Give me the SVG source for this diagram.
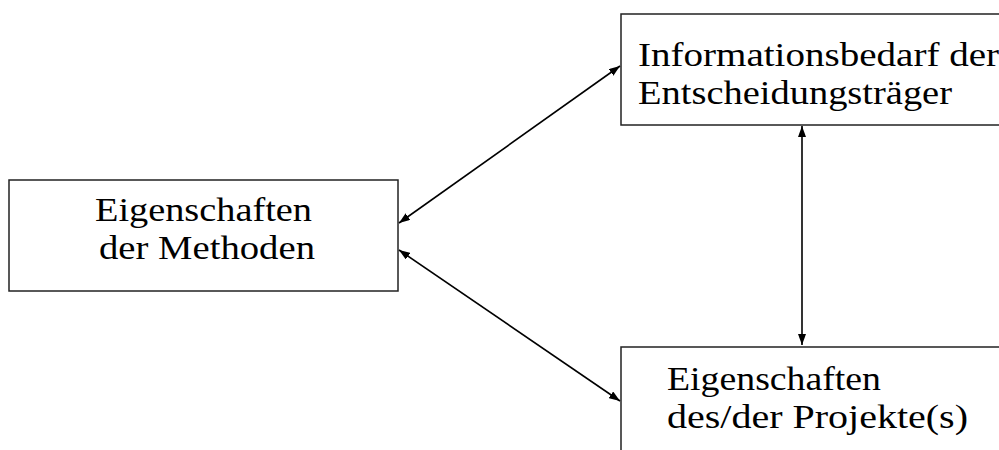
<svg xmlns="http://www.w3.org/2000/svg" width="999" height="450" viewBox="0 0 999 450">
<style>
.box{fill:#fff;stroke:#222;stroke-width:1.5}
.t{font-family:"Liberation Serif","Times New Roman",serif;font-size:34px;fill:#000}
.c{stroke:#000;stroke-width:1.6;fill:none;marker-start:url(#ah);marker-end:url(#ah)}
</style>
<defs>
<marker id="ah" markerUnits="userSpaceOnUse" markerWidth="11" markerHeight="8" refX="11" refY="4" orient="auto-start-reverse">
<path d="M0,0 L11,4 L0,8 z" fill="#000"/>
</marker>
</defs>
<rect width="999" height="450" fill="#fff"/>
<g id="node-info">
<rect class="box" x="621" y="14" width="400" height="111"/>
<text class="t" x="638" y="66" textLength="361" lengthAdjust="spacingAndGlyphs">Informationsbedarf der</text>
<text class="t" x="638" y="104" textLength="314" lengthAdjust="spacingAndGlyphs">Entscheidungsträger</text>
</g>
<g id="node-methoden">
<rect class="box" x="9" y="180" width="389" height="111"/>
<text class="t" x="95" y="221" textLength="217" lengthAdjust="spacingAndGlyphs">Eigenschaften</text>
<text class="t" x="99" y="259" textLength="216" lengthAdjust="spacingAndGlyphs">der Methoden</text>
</g>
<g id="node-projekte">
<rect class="box" x="621" y="347" width="400" height="120"/>
<text class="t" x="667" y="390" textLength="214" lengthAdjust="spacingAndGlyphs">Eigenschaften</text>
<text class="t" x="667" y="428" textLength="301" lengthAdjust="spacingAndGlyphs">des/der Projekte(s)</text>
</g>
<g id="connectors">
<line class="c" x1="399" y1="223" x2="620" y2="66"/>
<line class="c" x1="399" y1="250" x2="620" y2="401"/>
<line class="c" x1="802" y1="126" x2="802" y2="345"/>
</g>
</svg>
